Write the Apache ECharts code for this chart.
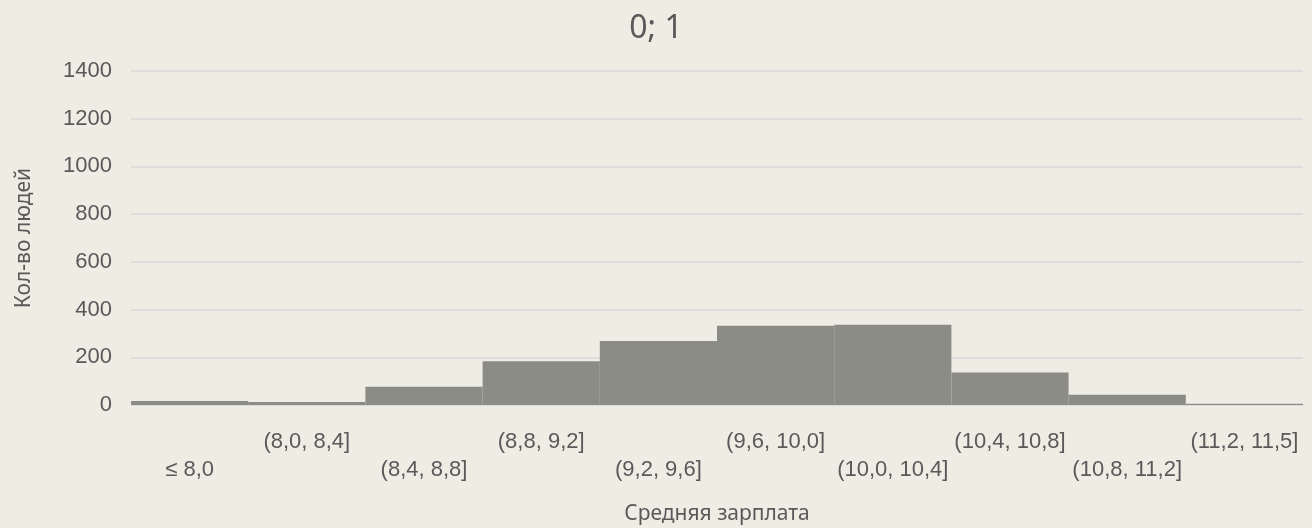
<!DOCTYPE html>
<html>
<head>
<meta charset="utf-8">
<script src="https://cdn.jsdelivr.net/npm/echarts@6/dist/echarts.min.js"></script>
<style>
html,body{margin:0;padding:0;background:#efece4;}
#chart{width:1312px;height:528px;}
</style>
</head>
<body>
<div id="chart"></div>
<script>
const categories = ['≤ 8,0', '(8,0, 8,4]', '(8,4, 8,8]', '(8,8, 9,2]', '(9,2, 9,6]', '(9,6, 10,0]', '(10,0, 10,4]', '(10,4, 10,8]', '(10,8, 11,2]', '(11,2, 11,5]'];
const counts = [17, 13, 77, 183, 268, 332, 336, 136, 43, 5];
const yTicks = [0, 200, 400, 600, 800, 1000, 1200, 1400];

const chart = echarts.init(document.getElementById('chart'));
chart.setOption({
  backgroundColor: '#efece4',
  animation: false,
  title: {
    text: '0; 1',
    left: 'center',
    top: 8,
    textStyle: {color: '#595959', fontSize: 32, fontWeight: 'normal', fontFamily: 'Noto Sans'}
  },
  grid: {left: 131, right: 9, top: 71, bottom: 123, containLabel: false, outerBoundsMode: 'none'},
  xAxis: {
    type: 'category',
    data: categories,
    name: 'Средняя зарплата',
    nameLocation: 'middle',
    nameGap: 99,
    nameTextStyle: {color: '#595959', fontSize: 21, fontFamily: 'Noto Sans'},
    axisLine: {show: true, lineStyle: {color: '#d9d9d9', width: 1.5}},
    axisTick: {show: false},
    axisLabel: {
      interval: 0,
      margin: 23,
      color: '#595959',
      fontSize: 22,
      fontFamily: 'Liberation Sans',
      lineHeight: 28,
      formatter: function (v, i) { return i % 2 === 0 ? '\n' + v : v + '\n'; }
    }
  },
  yAxis: {
    type: 'value',
    min: yTicks[0],
    max: yTicks[yTicks.length - 1],
    interval: 200,
    name: 'Кол-во людей',
    nameLocation: 'middle',
    nameGap: 96,
    nameTextStyle: {color: '#595959', fontSize: 21, fontFamily: 'Noto Sans'},
    axisLine: {show: false},
    axisTick: {show: false},
    axisLabel: {color: '#595959', fontSize: 22, fontFamily: 'Liberation Sans', margin: 19,
      formatter: function (v) { return String(v); }},
    splitLine: {lineStyle: {color: '#d9d9d9', width: 1.5}}
  },
  series: [{
    type: 'bar',
    data: counts,
    barCategoryGap: '0%',
    itemStyle: {color: '#8b8c85', borderWidth: 0}
  }]
});
</script>
</body>
</html>
